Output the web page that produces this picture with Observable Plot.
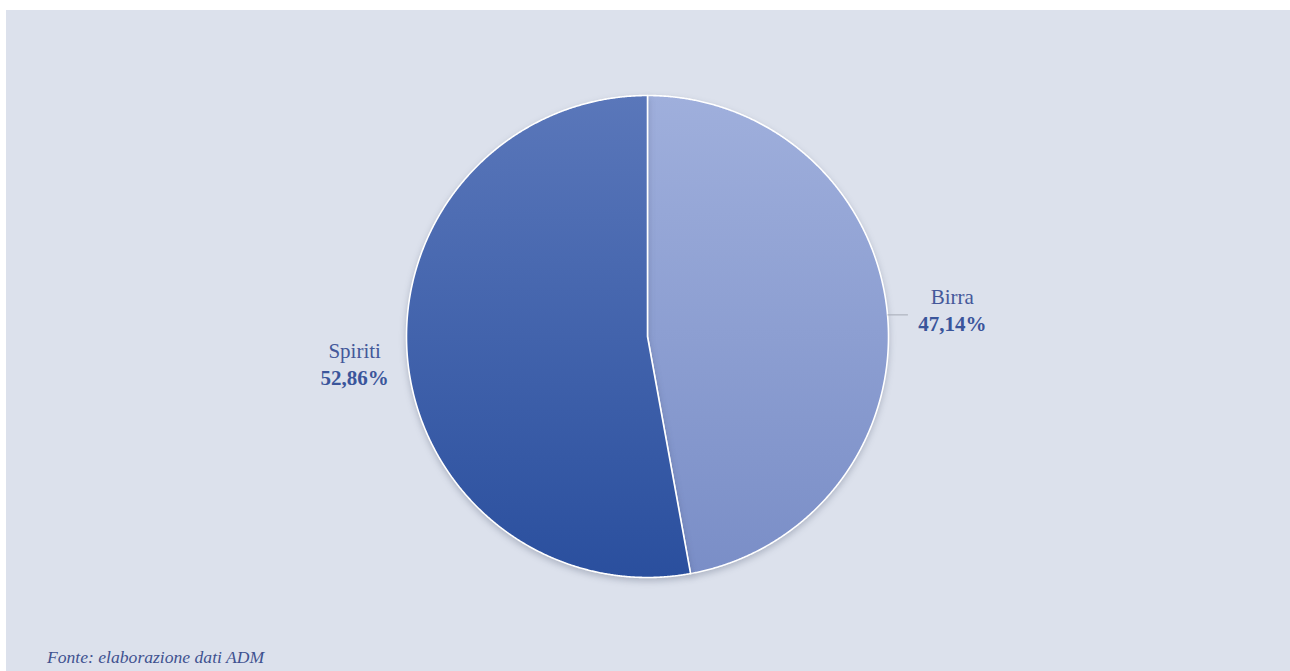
<!DOCTYPE html>
<html>
<head>
<meta charset="utf-8">
<script src="https://cdn.jsdelivr.net/npm/d3@7"></script>
<script src="https://cdn.jsdelivr.net/npm/@observablehq/plot@0.6"></script>
<style>
  html, body { margin: 0; padding: 0; background: #ffffff; }
  #frame { position: absolute; left: 6px; top: 10px; width: 1284px; height: 661px; background: #dce1ec; overflow: hidden; }
  #chart svg { display: block; }
  #caption { position: absolute; left: 41px; top: 637px; font-family: "Liberation Serif", serif; font-style: italic; font-size: 17.6px; color: #3f5290; }
</style>
</head>
<body>
<div id="frame">
  <div id="chart"></div>
  <div id="caption">Fonte: elaborazione dati ADM</div>
</div>
<script>
// ---- data ----
const categories = ["Birra", "Spiriti"];
const shares = [47.14, 52.86];
const shareLabels = ["47,14%", "52,86%"];

// ---- layout ----
const W = 1284, H = 626;
const cx = 641, cy = 326, R = 241;   // pie centre and radius in px
const gradients = {
  "Birra": ["#9fafdc", "#7a8ec7"],
  "Spiriti": ["#5a77ba", "#2a4f9e"]
};
const labelRadius = {"Birra": 1.27, "Spiriti": 1.22};

const slices = d3.pie().sort(null).value((d, i) => shares[i])(categories.map((c, i) => i));
const polyPts = [];
const labels = [];
slices.forEach((s, k) => {
  const name = categories[s.data];
  polyPts.push({name, x: 0, y: 0});
  const n = Math.max(2, Math.ceil((s.endAngle - s.startAngle) / (Math.PI / 720)));
  for (let j = 0; j <= n; j++) {
    const a = s.startAngle + (s.endAngle - s.startAngle) * j / n;
    polyPts.push({name, x: Math.sin(a), y: Math.cos(a)});
  }
  const m = (s.startAngle + s.endAngle) / 2;
  const lr = labelRadius[name];
  labels.push({name, value: shareLabels[s.data], mx: Math.sin(m), my: Math.cos(m),
               x: lr * Math.sin(m), y: lr * Math.cos(m), leader: name === "Birra"});
});

const xDom = [-cx / R, (W - cx) / R];
const yDom = [-(H - cy) / R, cy / R];

const marks = categories.map(c =>
  Plot.line(polyPts.filter(p => p.name === c), {
    x: "x", y: "y", curve: "linear-closed",
    fill: `url(#grad-${c})`, stroke: "#ffffff", strokeWidth: 1.6, strokeLinejoin: "round"
  })
);
marks.push(
  Plot.link(labels.filter(d => d.leader), {
    x1: d => d.mx, y1: d => d.my, x2: d => d.mx * 1.085, y2: d => d.my,
    stroke: "#a6abb5", strokeWidth: 1
  }),
  Plot.text(labels, {x: "x", y: "y", text: "name", dy: -12, fontSize: 21,
    fontFamily: "Liberation Serif", fill: "#44589a"}),
  Plot.text(labels, {x: "x", y: "y", text: "value", dy: 15, fontSize: 21, fontWeight: "bold",
    fontFamily: "Liberation Serif", fill: "#3a559b"})
);

const plot = Plot.plot({
  width: W, height: H,
  margin: 0,
  style: {background: "transparent", overflow: "visible"},
  x: {domain: xDom, axis: null},
  y: {domain: yDom, axis: null},
  marks
});

// gradients + shadow
const ns = "http://www.w3.org/2000/svg";
const defs = document.createElementNS(ns, "defs");
for (const c of categories) {
  const g = document.createElementNS(ns, "linearGradient");
  g.setAttribute("id", `grad-${c}`);
  g.setAttribute("x1", "0"); g.setAttribute("y1", "0");
  g.setAttribute("x2", "0"); g.setAttribute("y2", "1");
  gradients[c].forEach((col, i) => {
    const st = document.createElementNS(ns, "stop");
    st.setAttribute("offset", i ? "1" : "0");
    st.setAttribute("stop-color", col);
    g.appendChild(st);
  });
  defs.appendChild(g);
}
plot.insertBefore(defs, plot.firstChild);
plot.querySelectorAll('g[aria-label="line"]').forEach(g => {
  g.style.filter = "drop-shadow(0px 3px 3px rgba(40,50,80,0.25))";
});
document.getElementById("chart").appendChild(plot);
</script>
</body>
</html>
